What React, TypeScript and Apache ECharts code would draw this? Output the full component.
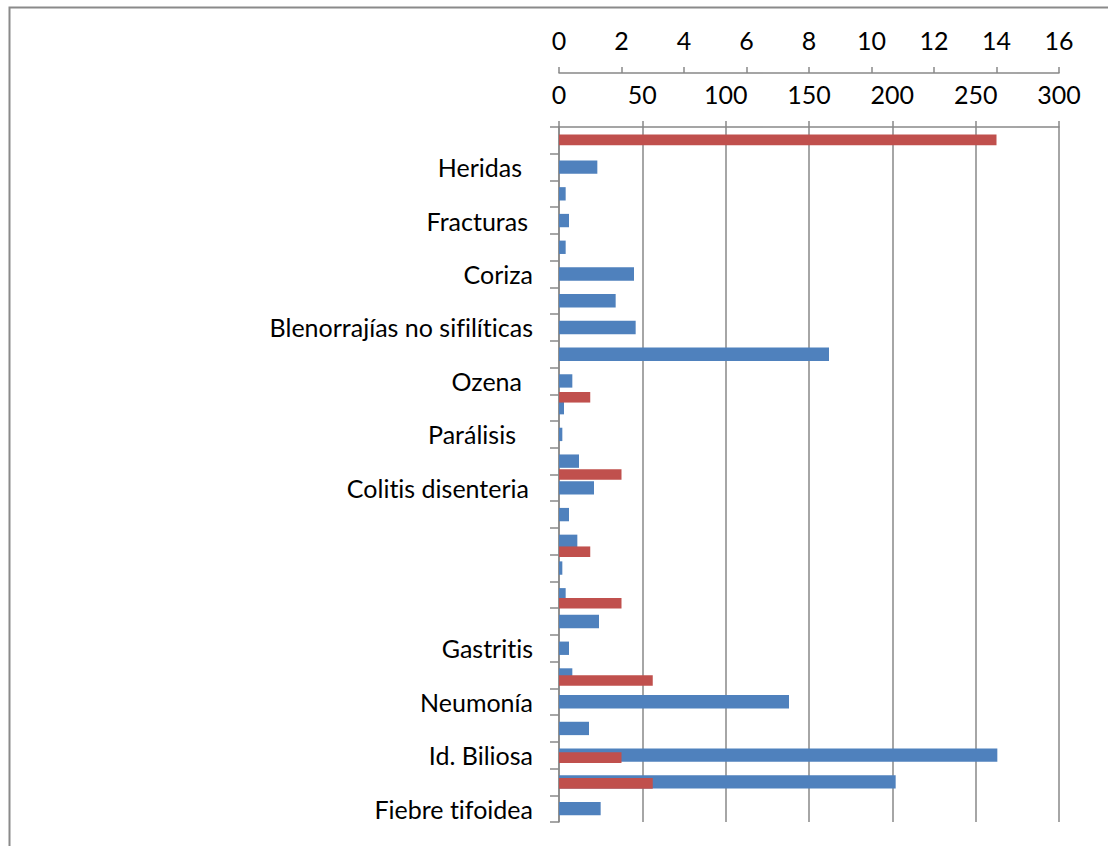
import React, { useEffect, useRef } from "react";
import * as echarts from "echarts";

// Primary category axis (26 rows, top to bottom); unlabeled rows are blank
const categories = [
  "", "Heridas", "", "Fracturas", "", "Coriza", "", "Blenorrajías no sifilíticas",
  "", "Ozena", "", "Parálisis", "", "Colitis disenteria", "", "", "", "", "",
  "Gastritis", "", "Neumonía", "", "Id. Biliosa", "", "Fiebre tifoidea",
];

// Blue series (primary axis 0–300)
const blueValues = [
  null, 23, 4, 6, 4, 45, 34, 46, 162, 8, 3, 2, 12, 21, 6, 11, 2, 4, 24, 6, 8, 138, 18, 263, 202, 25,
];

// Secondary (hidden) category axis with 27 rows
const secondaryCategories = [
  "", "", "", "", "", "", "", "", "", "", "", "", "", "",
  "", "", "", "", "", "", "", "", "", "", "", "", "",
];

// Red series (secondary axis 0–16)
const redValues = [
  14, null, null, null, null, null, null, null, null, null, 1, null, null, 2,
  null, null, 1, null, 2, null, null, 3, null, null, 2, 3, null,
];

const primaryTicks = { min: 0, max: 300, interval: 50 };
const secondaryTicks = { min: 0, max: 16, interval: 2 };

// label trailing gaps (style only)
const labelGap: Record<string, number> = {
  Heridas: 11,
  Fracturas: 5,
  Ozena: 11,
  "Parálisis": 17,
  "Colitis disenteria": 4,
};

const FONT = "Lato";
const GRAY = "#888888";
const FS = 25;

export default function App() {
  const ref = useRef<HTMLDivElement>(null);
  useEffect(() => {
    if (!ref.current) return;
    const chart = echarts.init(ref.current, null, { renderer: "svg" });
    const catData = categories.map((c) =>
      labelGap[c] ? { value: c, textStyle: { padding: [0, labelGap[c], 0, 0] } } : c
    );
    const lineStyle = { color: GRAY, width: 1.5 };
    chart.setOption({
      animation: false,
      backgroundColor: "#ffffff",
      textStyle: { fontFamily: FONT },
      graphic: [
        {
          type: "rect",
          silent: true,
          z: -10,
          shape: { x: 9.5, y: 7.5, width: 1300, height: 1000 },
          style: { fill: "none", stroke: "#8a8a8a", lineWidth: 2 },
        },
      ],
      grid: { left: 559, top: 127, width: 500, height: 695 },
      xAxis: [
        {
          type: "value",
          position: "top",
          ...primaryTicks,
          axisLine: { show: true, onZero: false, lineStyle },
          axisTick: { show: true, length: 6, lineStyle },
          axisLabel: { color: "#000", fontSize: FS, fontFamily: FONT, margin: 21 },
          splitLine: { show: true, lineStyle },
        },
        {
          type: "value",
          position: "top",
          offset: 54,
          ...secondaryTicks,
          axisLine: { show: true, onZero: false, lineStyle },
          axisTick: { show: true, length: 6, lineStyle },
          axisLabel: { color: "#000", fontSize: FS, fontFamily: FONT, margin: 21 },
          splitLine: { show: false },
        },
      ],
      yAxis: [
        {
          type: "category",
          inverse: true,
          position: "left",
          data: catData,
          axisLine: { show: true, onZero: false, lineStyle },
          axisTick: { show: true, interval: 0, length: 9, lineStyle },
          axisLabel: { interval: 0, color: "#000", fontSize: FS, fontFamily: FONT, margin: 26 },
          splitLine: { show: false },
        },
        {
          type: "category",
          inverse: true,
          position: "right",
          show: false,
          data: secondaryCategories,
        },
      ],
      series: [
        {
          type: "bar",
          name: "Serie 1",
          xAxisIndex: 0,
          yAxisIndex: 0,
          data: blueValues,
          barWidth: "50%",
          itemStyle: { color: "#4F81BD" },
        },
        {
          type: "bar",
          name: "Serie 2",
          xAxisIndex: 1,
          yAxisIndex: 1,
          data: redValues,
          barWidth: "41%",
          itemStyle: { color: "#C0504D" },
        },
      ],
    });
    return () => chart.dispose();
  }, []);
  return (
    <div
      ref={ref}
      style={{
        position: "fixed",
        left: 0,
        top: 0,
        width: 1108,
        height: 846,
        background: "#fff",
        fontVariantLigatures: "none",
      }}
    />
  );
}
